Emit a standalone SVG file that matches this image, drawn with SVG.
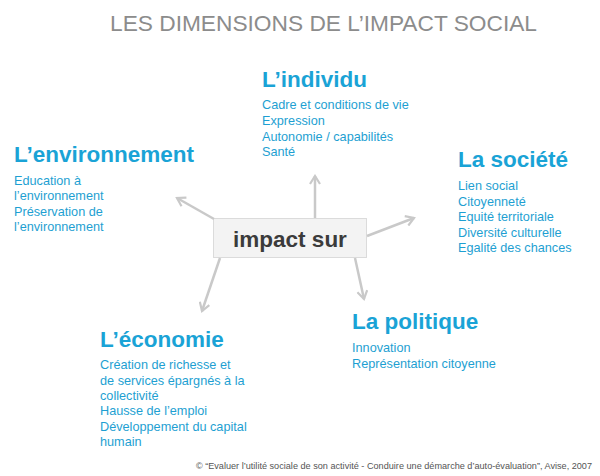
<svg xmlns="http://www.w3.org/2000/svg" width="600" height="476" viewBox="0 0 600 476">
<style>
.title{font-family:"Liberation Sans",Arial,sans-serif;font-size:22.5px;fill:#8c8c8c}
.h{font-family:"Liberation Sans",Arial,sans-serif;font-size:22.5px;font-weight:bold;fill:#1aa3d6}
.t{font-family:"Liberation Sans",Arial,sans-serif;font-size:12.7px;fill:#1e9fd2}
.c{font-family:"Liberation Sans",Arial,sans-serif;font-size:22.5px;font-weight:bold;fill:#3b3b3b}
.f{font-family:"Liberation Sans",Arial,sans-serif;font-size:9.15px;fill:#555}
.a{stroke:#c9c9c9;stroke-width:2.5;fill:none;marker-end:url(#ah)}
</style>
<defs>
<marker id="ah" viewBox="0 0 12 12" refX="10" refY="6" markerWidth="12" markerHeight="12" markerUnits="userSpaceOnUse" orient="auto">
<path d="M2,1 L10,6 L2,11" fill="none" stroke="#c9c9c9" stroke-width="2.2"/>
</marker>
</defs>
<rect width="600" height="476" fill="#fff"/>
<text class="title" x="110" y="31" textLength="427" lengthAdjust="spacingAndGlyphs">LES DIMENSIONS DE L’IMPACT SOCIAL</text>
<g id="connectors">
<line class="a" x1="315" y1="218" x2="315" y2="176"/>
<line class="a" x1="214" y1="219" x2="177" y2="198"/>
<line class="a" x1="367" y1="236" x2="414" y2="218"/>
<line class="a" x1="220" y1="258" x2="202" y2="311"/>
<line class="a" x1="355" y1="258" x2="364" y2="299"/>
</g>
<g id="center">
<rect x="213.5" y="218.5" width="153" height="39" fill="#f3f3f3" stroke="#bdbdbd" stroke-width="1" stroke-dasharray="1,1"/>
<text class="c" x="290" y="247" text-anchor="middle">impact sur</text>
</g>
<g id="individu">
<text class="h" x="262" y="87">L’individu</text>
<text class="t" x="262" y="109">Cadre et conditions de vie</text>
<text class="t" x="262" y="125">Expression</text>
<text class="t" x="262" y="141">Autonomie / capabilités</text>
<text class="t" x="262" y="156">Santé</text>
</g>
<g id="environnement">
<text class="h" x="14" y="162">L’environnement</text>
<text class="t" x="14" y="185">Education à</text>
<text class="t" x="14" y="200">l’environnement</text>
<text class="t" x="14" y="216">Préservation de</text>
<text class="t" x="14" y="231">l’environnement</text>
</g>
<g id="societe">
<text class="h" x="458" y="167">La société</text>
<text class="t" x="458" y="190">Lien social</text>
<text class="t" x="458" y="206">Citoyenneté</text>
<text class="t" x="458" y="221">Equité territoriale</text>
<text class="t" x="458" y="237">Diversité culturelle</text>
<text class="t" x="458" y="252">Egalité des chances</text>
</g>
<g id="economie">
<text class="h" x="100" y="347">L’économie</text>
<text class="t" x="100" y="369">Création de richesse et</text>
<text class="t" x="100" y="385">de services épargnés à la</text>
<text class="t" x="100" y="400">collectivité</text>
<text class="t" x="100" y="415">Hausse de l’emploi</text>
<text class="t" x="100" y="431">Développement du capital</text>
<text class="t" x="100" y="446">humain</text>
</g>
<g id="politique">
<text class="h" x="352" y="329">La politique</text>
<text class="t" x="352" y="352">Innovation</text>
<text class="t" x="352" y="368">Représentation citoyenne</text>
</g>
<text class="f" x="592" y="469" text-anchor="end">© “Evaluer l’utilité sociale de son activité - Conduire une démarche d’auto-évaluation”, Avise, 2007</text>
</svg>
